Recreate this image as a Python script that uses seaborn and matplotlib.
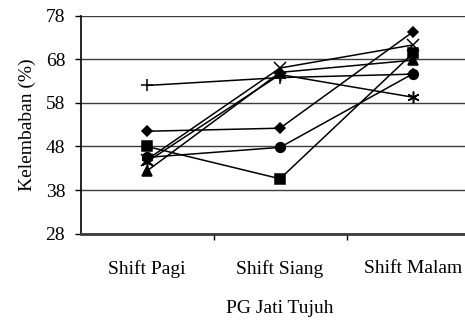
import matplotlib
matplotlib.use("Agg")
import matplotlib.pyplot as plt
import seaborn as sns
import pandas as pd
from matplotlib.ticker import FixedLocator

# Humidity readings per shift at PG Jati Tujuh, one series per observation day
shifts = ["Shift Pagi", "Shift Siang", "Shift Malam"]
series_names = ["H1", "H2", "H3", "H4", "H5", "H6", "H7"]
h1 = [51.5, 52.2, 74.3]   # diamond
h2 = [48.0, 40.6, 69.4]   # square
h3 = [42.4, 65.0, 67.8]   # triangle
h4 = [45.0, 66.0, 71.3]   # x
h5 = [44.5, 64.5, 59.3]   # asterisk
h6 = [45.5, 47.8, 64.7]   # circle
h7 = [62.0, 63.8, 64.6]   # plus
y_ticks = [28, 38, 48, 58, 68, 78]

values = [h1, h2, h3, h4, h5, h6, h7]
df = pd.DataFrame(
    [(name, s, v) for name, vals in zip(series_names, values) for s, v in zip(shifts, vals)],
    columns=["hari", "shift", "kelembaban"],
)

sns.set_theme(style="white")
plt.rcParams["font.family"] = ["Liberation Serif", "DejaVu Serif"]

fig = plt.figure(figsize=(4.65, 3.21), dpi=100)
ax = fig.add_axes([80.5 / 465, 1 - 233.7 / 321, 399 / 465, 218 / 321])

marker_map = {
    "H1": "D",
    "H2": "s",
    "H3": "^",
    "H4": "x",
    "H5": (6, 2, 0),
    "H6": "o",
    "H7": "+",
}
size_map = {"H1": 5.6, "H2": 6.8, "H3": 7.5, "H4": 8, "H5": 8.5, "H6": 7, "H7": 9}

# draw the plus series first so the circle series sits on top of it
order = ["H7", "H1", "H2", "H3", "H4", "H5", "H6"]
for name in order:
    sub = df[df["hari"] == name]
    sns.lineplot(
        data=sub, x="shift", y="kelembaban", ax=ax, color="black",
        linewidth=1.1, marker=marker_map[name], markersize=size_map[name],
        markeredgecolor="black", markerfacecolor="black", markeredgewidth=1.1,
        legend=False, sort=False,
    )

ax.set_xlim(-0.5, 2.5)
ax.set_ylim(28, 78)
ax.set_yticks(y_ticks)
ax.yaxis.grid(True, color="#3c3c3c", linewidth=1.0)
ax.set_axisbelow(True)

for side in ["top", "right"]:
    ax.spines[side].set_visible(False)
ax.spines["left"].set_color("black")
ax.spines["left"].set_linewidth(1.2)
ax.spines["bottom"].set_color("#3a3a3a")
ax.spines["bottom"].set_linewidth(2.0)

ax.tick_params(axis="y", which="major", left=True, length=4, width=1, color="black",
               pad=7, labelsize=14, labelcolor="black")
ax.tick_params(axis="x", which="major", length=0, pad=19, labelsize=14, labelcolor="black")
ax.xaxis.set_minor_locator(FixedLocator([0.5, 1.5]))
ax.tick_params(axis="x", which="minor", bottom=True, length=4, width=1, color="black")

ax.set_xlabel("PG Jati Tujuh", fontsize=14, color="black", labelpad=16)
ax.set_ylabel("Kelembaban (%)", fontsize=14, color="black", labelpad=7)

fig.savefig("out.png", dpi=100, facecolor="white")
